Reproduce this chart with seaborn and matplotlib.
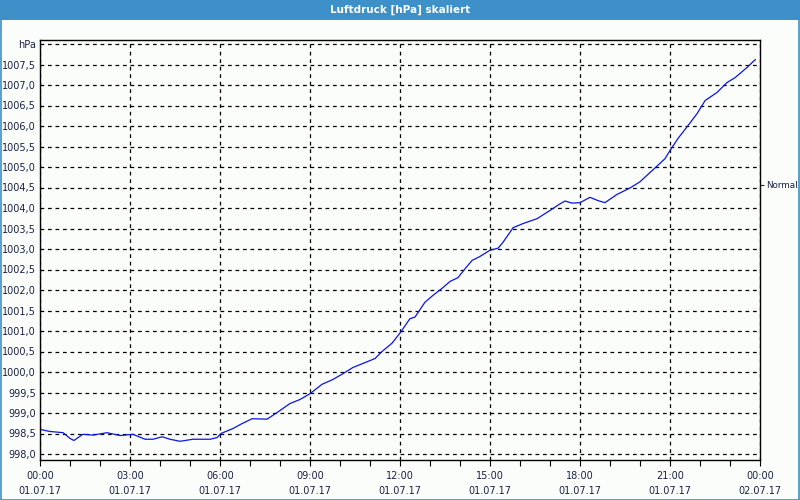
import matplotlib
matplotlib.use("Agg")
import matplotlib.pyplot as plt
import seaborn as sns
import numpy as np
from matplotlib.patches import Rectangle
from matplotlib.ticker import MultipleLocator

# ---- data ----
hours = [0.0, 0.33, 0.77, 1.0, 1.13, 1.43, 1.77, 2.23, 2.67, 3.1, 3.5, 3.77, 4.07,
         4.33, 4.67, 5.1, 5.67, 5.9, 6.03, 6.43, 6.73, 7.07, 7.57, 7.9, 8.33, 8.67,
         9.0, 9.4, 9.77, 10.1, 10.43, 10.77, 11.17, 11.4, 11.73, 12.0, 12.33, 12.5,
         12.83, 13.1, 13.4, 13.67, 13.93, 14.17, 14.4, 14.67, 15.0, 15.27, 15.43,
         15.77, 16.1, 16.57, 17.0, 17.33, 17.5, 17.73, 18.0, 18.33, 18.6, 18.83,
         19.23, 19.67, 20.0, 20.43, 20.83, 21.0, 21.27, 21.6, 21.9, 22.17, 22.57,
         22.9, 23.17, 23.57, 23.77, 23.85]
pressure = [998.60, 998.55, 998.52, 998.38, 998.33, 998.48, 998.46, 998.52, 998.45,
            998.48, 998.36, 998.36, 998.42, 998.36, 998.31, 998.36, 998.36, 998.40,
            998.50, 998.62, 998.74, 998.86, 998.85, 999.01, 999.23, 999.33, 999.47,
            999.70, 999.82, 999.96, 1000.11, 1000.21, 1000.33, 1000.50, 1000.70,
            1000.95, 1001.30, 1001.34, 1001.70, 1001.87, 1002.04, 1002.21, 1002.30,
            1002.52, 1002.72, 1002.82, 1002.97, 1003.02, 1003.16, 1003.52, 1003.62,
            1003.74, 1003.94, 1004.10, 1004.17, 1004.12, 1004.13, 1004.26, 1004.18,
            1004.13, 1004.33, 1004.49, 1004.64, 1004.93, 1005.20, 1005.40, 1005.70,
            1006.01, 1006.30, 1006.62, 1006.82, 1007.06, 1007.18, 1007.43, 1007.57,
            1007.62]

x_tick_hours = [0, 3, 6, 9, 12, 15, 18, 21, 24]
x_tick_labels = ["00:00\n01.07.17", "03:00\n01.07.17", "06:00\n01.07.17",
                 "09:00\n01.07.17", "12:00\n01.07.17", "15:00\n01.07.17",
                 "18:00\n01.07.17", "21:00\n01.07.17", "00:00\n02.07.17"]
y_tick_values = [998.0 + 0.5 * i for i in range(21)]
y_tick_labels = [f"{v:.1f}".replace(".", ",") for v in y_tick_values[:-1]] + ["hPa"]
normal_value = 1004.57
title = "Luftdruck [hPa] skaliert"

# ---- style ----
sns.set_style("white")
plt.rcParams["font.family"] = ["DejaVu Sans"]
label_color = "#1a2142"
bg = "#fbfdfb"
frame_blue = "#3d90c8"

fig = plt.figure(figsize=(8, 5), dpi=100, facecolor=bg)
# title bar and border
fig.patches.append(Rectangle((0, 1 - 20 / 500), 1, 20 / 500, transform=fig.transFigure,
                             facecolor=frame_blue, edgecolor="none", zorder=0))
fig.patches.append(Rectangle((0.5 / 800, 0.5 / 500), 1 - 1.5 / 800, 1 - 1 / 500,
                             transform=fig.transFigure, facecolor="none",
                             edgecolor=frame_blue, linewidth=1.2, zorder=0))
fig.text(0.5, 1 - 10 / 500, title, color="white", ha="center", va="center",
         fontsize=7.5, fontweight="bold")

ax = fig.add_axes([40 / 800, 1 - 460 / 500, 720 / 800, 420 / 500])
ax.set_facecolor(bg)

sns.lineplot(x=hours, y=pressure, ax=ax, color="#0a14e6", linewidth=0.9)

ax.set_xlim(0, 24)
y_per_px = 0.5 / 20.5
ax.set_ylim(998.0 - 6 * y_per_px, 1008.0 + 4 * y_per_px)

ax.set_xticks(x_tick_hours)
ax.set_xticklabels(x_tick_labels, fontsize=7, color=label_color, linespacing=1.65)
ax.xaxis.set_minor_locator(MultipleLocator(1))
ax.set_yticks(y_tick_values)
ax.set_yticklabels(y_tick_labels, fontsize=7, color=label_color)

ax.tick_params(axis="x", which="both", bottom=True, direction="out", length=4,
               width=0.8, color="black", pad=4)
ax.tick_params(axis="y", which="both", left=False, length=0, pad=3)

ax.grid(True, which="major", axis="both", color="black", linestyle=(0, (3, 3)),
        linewidth=0.9)
for s in ax.spines.values():
    s.set_visible(True)
    s.set_color("black")
    s.set_linewidth(1.0)
ax.set_xlabel("")
ax.set_ylabel("")

ax2 = ax.twinx()
ax2.set_ylim(ax.get_ylim())
ax2.set_yticks([normal_value])
ax2.set_yticklabels(["Normal"], fontsize=6.3, color=label_color)
ax2.tick_params(axis="y", right=True, direction="out", length=3, width=0.8, pad=1.5)
ax2.grid(False)
for s in ax2.spines.values():
    s.set_visible(False)

fig.savefig("out.png", dpi=100, facecolor=bg)
